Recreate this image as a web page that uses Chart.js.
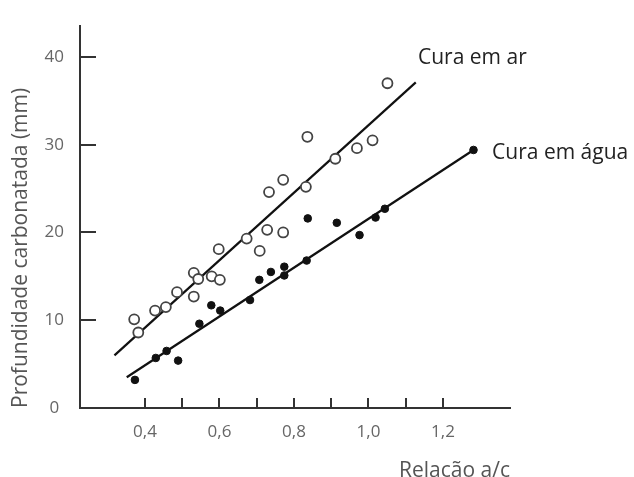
<!DOCTYPE html>
<html><head><meta charset="utf-8">
<script src="https://cdn.jsdelivr.net/npm/chart.js@4.4.1/dist/chart.umd.min.js"></script>
<style>html,body{margin:0;padding:0;background:#fff;overflow:hidden}#wrap{width:634px;height:477px}</style>
</head><body><div id="wrap"><canvas id="c" width="634" height="477"></canvas></div>
<script>
// Cura em ar (open circles)
const airX = [0.371,0.382,0.427,0.456,0.486,0.531,0.531,0.543,0.579,0.601,0.598,0.673,0.708,0.728,0.733,0.771,0.771,0.832,0.836,0.911,0.969,1.011,1.051];
const airY = [10.1,8.6,11.1,11.5,13.2,12.7,15.4,14.7,15.0,14.6,18.1,19.3,17.9,20.3,24.6,26.0,20.0,25.2,30.9,28.4,29.6,30.5,37.0];
// Cura em água (filled dots)
const waterX = [0.373,0.429,0.458,0.489,0.546,0.578,0.602,0.682,0.707,0.738,0.774,0.774,0.834,0.837,0.915,0.976,1.019,1.044,1.282];
const waterY = [3.2,5.7,6.5,5.4,9.6,11.7,11.1,12.3,14.6,15.5,16.1,15.1,16.8,21.6,21.1,19.7,21.7,22.7,29.4];
// fitted lines (end points)
const airFitX = [0.318,1.127];
const airFitY = [6.0,37.1];
const waterFitX = [0.351,1.282];
const waterFitY = [3.5,29.4];
// ticks
const yTickValues = [0,10,20,30,40];
const xTickValues = [0.4,0.5,0.6,0.7,0.8,0.9,1.0,1.1,1.2];
const xLabelValues = [0.4,0.6,0.8,1.0,1.2];
// series labels and their anchor (data coords)
const seriesNames = ['Cura em ar','Cura em água'];
const nameAnchorX = [1.133,1.332];
const nameAnchorY = [39.9,29.1];

const toPts = (xs, ys) => xs.map((v,i)=>({x:v, y:ys[i]}));

Chart.defaults.font.family = '"Open Sans", sans-serif';

const customDraw = {
  id: 'customDraw',
  afterDatasetsDraw(chart) {
    const {ctx, scales:{x, y}} = chart;
    ctx.save();
    ctx.strokeStyle = '#333';
    ctx.lineWidth = 2;
    const x0 = x.left, y0 = y.bottom;
    yTickValues.forEach(v => {
      if (v === 0) return;
      const py = Math.round(y.getPixelForValue(v));
      ctx.beginPath(); ctx.moveTo(x0, py); ctx.lineTo(x0 + 16, py); ctx.stroke();
    });
    xTickValues.forEach(v => {
      const px = Math.round(x.getPixelForValue(v));
      ctx.beginPath(); ctx.moveTo(px, y0); ctx.lineTo(px, y0 - 10); ctx.stroke();
    });
    ctx.fillStyle = '#222';
    ctx.font = '21px "Open Sans", sans-serif';
    ctx.textBaseline = 'middle';
    ctx.textAlign = 'left';
    seriesNames.forEach((n, i) => {
      ctx.fillText(n, x.getPixelForValue(nameAnchorX[i]), y.getPixelForValue(nameAnchorY[i]));
    });
    ctx.restore();
  }
};

new Chart(document.getElementById('c'), {
  type: 'scatter',
  data: {
    datasets: [
      { label: seriesNames[0], data: toPts(airX, airY), order: 0,
        pointStyle: 'circle', pointRadius: 5, pointBorderWidth: 1.8,
        pointBackgroundColor: '#fff', pointBorderColor: '#444', showLine: false },
      { label: seriesNames[1], data: toPts(waterX, waterY), order: 0,
        pointStyle: 'circle', pointRadius: 3.8, pointBorderWidth: 1,
        pointBackgroundColor: '#111', pointBorderColor: '#111', showLine: false },
      { label: 'fit ar', data: toPts(airFitX, airFitY), order: 1, showLine: true,
        borderColor: '#111', borderWidth: 2.2, pointRadius: 0, fill: false },
      { label: 'fit água', data: toPts(waterFitX, waterFitY), order: 1, showLine: true,
        borderColor: '#111', borderWidth: 2.2, pointRadius: 0, fill: false }
    ]
  },
  options: {
    responsive: false, animation: false, devicePixelRatio: 1,
    layout: { padding: { left: 0, top: 14, right: 124, bottom: 0 } },
    plugins: { legend: { display: false }, tooltip: { enabled: false } },
    scales: {
      x: {
        type: 'linear', min: 0.2255, max: 1.38,
        grid: { display: false, drawTicks: false },
        border: { display: true, color: '#333', width: 2 },
        afterBuildTicks: s => { s.ticks = xLabelValues.map(v => ({value: v})); },
        afterFit: s => { s.height = 69; },
        ticks: { autoSkip: false, maxRotation: 0, padding: 14, color: '#666',
          font: { size: 17 },
          callback: v => Number(v).toFixed(1).replace('.', ',') },
        title: { display: true, text: 'Relação a/c', align: 'end', color: '#555',
          font: { size: 21 }, padding: { top: 0, bottom: -7 } }
      },
      y: {
        type: 'linear', min: 0, max: 43.5,
        grid: { display: false, drawTicks: false },
        border: { display: true, color: '#333', width: 2 },
        afterBuildTicks: s => { s.ticks = yTickValues.map(v => ({value: v})); },
        afterFit: s => { s.width = 80; },
        ticks: { padding: 16, crossAlign: 'center', color: '#666', font: { size: 17 } },
        title: { display: true, text: 'Profundidade carbonatada (mm)', align: 'start', color: '#555',
          font: { size: 21 }, padding: { top: 8, bottom: 0 } }
      }
    }
  },
  plugins: [customDraw]
});
</script>
</body></html>
